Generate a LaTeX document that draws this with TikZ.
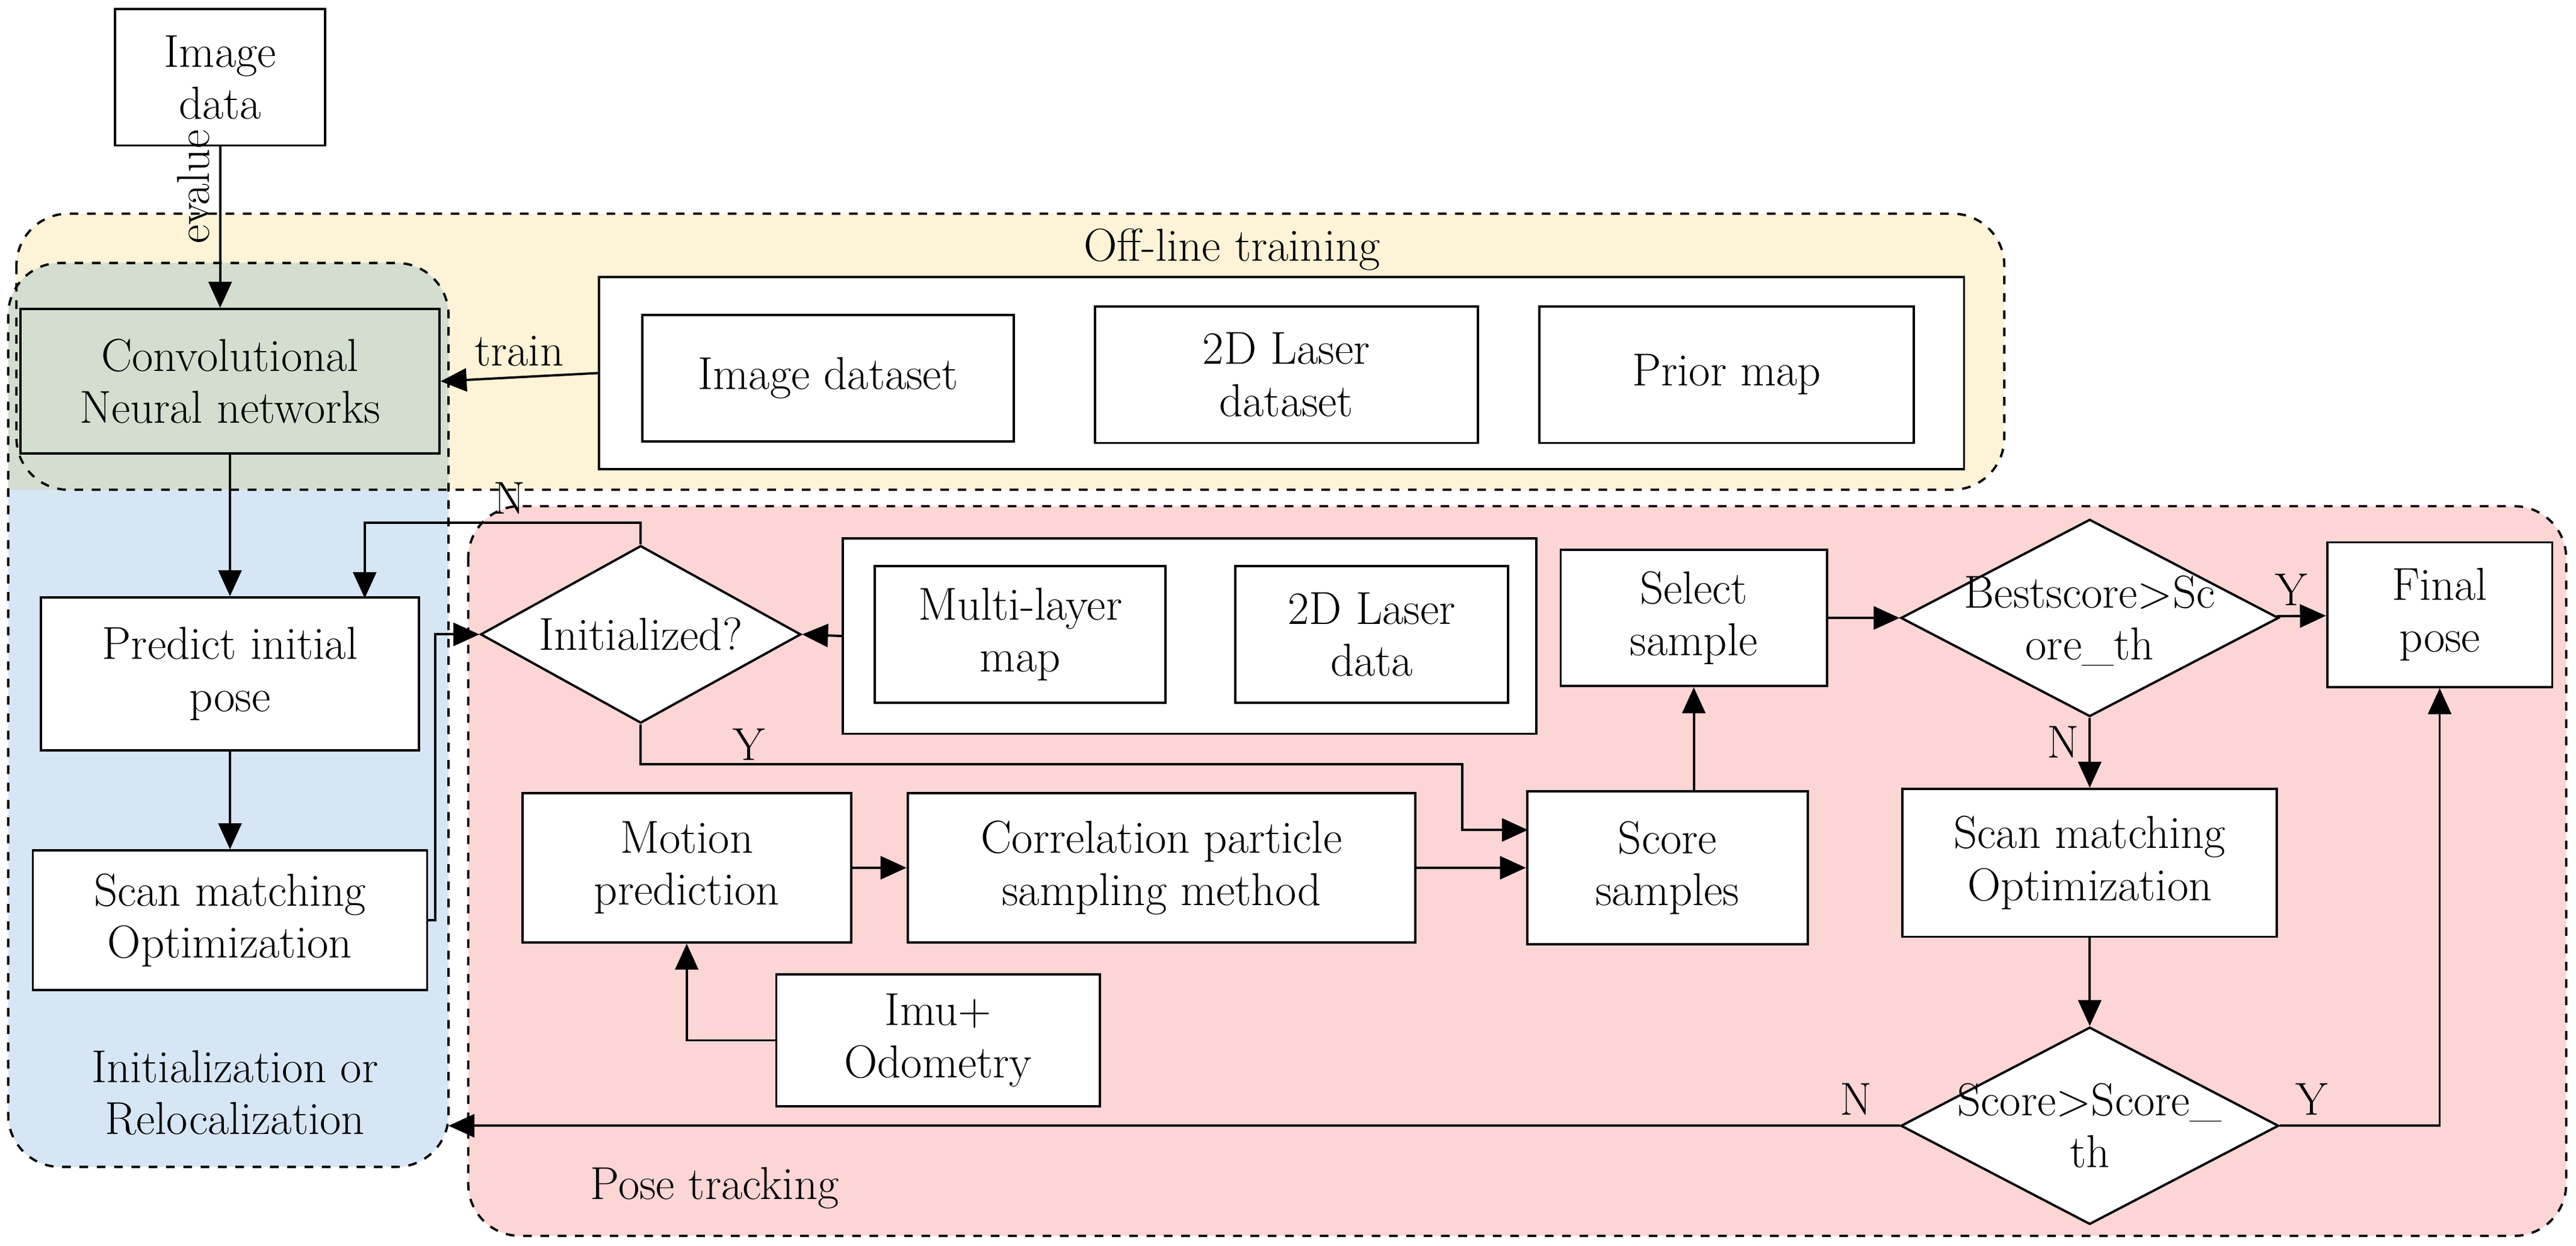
\documentclass[tikz,border=0pt]{standalone}
\usepackage{tikz}
\usetikzlibrary{shapes.geometric,arrows.meta}
\definecolor{yel}{HTML}{FDF3D6}
\definecolor{blu}{HTML}{D6E6F4}
\definecolor{grn}{HTML}{D3DECF}
\definecolor{pnk}{HTML}{FCD5D5}
\newcommand{\dtext}[1]{\smash{\raisebox{-0.9ex}{\makebox[0pt]{\begin{tabular}{@{}c@{}}#1\end{tabular}}}}}
\begin{document}
\begin{tikzpicture}[x=0.02cm,y=-0.02cm,
  every node/.style={font=\fontsize{16}{18}\selectfont},
  box/.style={draw,thick,align=center,inner sep=0pt},
  dia/.style={draw,thick,diamond,inner sep=0pt},
  region/.style={draw,thick,dashed,rounded corners=18},
  arr/.style={thick,-{Triangle[length=9pt,width=8pt]}},
  lab/.style={font=\fontsize{16}{18}\selectfont}]
\useasboundingbox (0,0) rectangle (1568,758);
% regions
\fill[fill=yel,rounded corners=18] (10,130) rectangle (1220,298);
\fill[fill=blu,rounded corners=18] (5,160) rectangle (273,710);
\fill[fill=grn,rounded corners=18] (5,298) -- (5,160) -- (273,160) [sharp corners] -- (273,298) -- cycle;
\fill[fill=pnk,rounded corners=18] (285,308) rectangle (1562,752);
\draw[region] (10,130) rectangle (1220,298);
\draw[region] (5,160) rectangle (273,710);
\draw[region] (285,308) rectangle (1562,752);
\node[lab] (offl) at (750,152) {Off-line training};
\node[lab,align=center] (initl) at (143,665) {Initialization or\\Relocalization};
\node[lab] (posel) at (435,723) {Pose tracking};
% nodes
\node[box,minimum width=128*0.02cm,minimum height=83*0.02cm,fill=white] (img) at (134,47) {Image\\data};
\node[box,minimum width=255*0.02cm,minimum height=88*0.02cm] (cnn) at (140,232) {Convolutional\\Neural networks};
\node[box,minimum width=831*0.02cm,minimum height=117*0.02cm,fill=white] (off) at (780,227) {};
\node[box,minimum width=226*0.02cm,minimum height=77*0.02cm] (ids) at (504,230) {Image dataset};
\node[box,minimum width=233*0.02cm,minimum height=83*0.02cm] (lds) at (783,228) {2D Laser\\dataset};
\node[box,minimum width=228*0.02cm,minimum height=83*0.02cm] (pm) at (1051,228) {Prior map};
\node[box,minimum width=230*0.02cm,minimum height=93*0.02cm,fill=white] (pred) at (140,410) {Predict initial\\pose};
\node[box,minimum width=240*0.02cm,minimum height=85*0.02cm,fill=white] (scl) at (140,560) {Scan matching\\Optimization};
\node[dia,minimum width=195*0.02cm,minimum height=108*0.02cm,fill=white] (ini) at (390,386) {\dtext{Initialized?}};
\node[box,minimum width=422*0.02cm,minimum height=119*0.02cm,fill=white] (inb) at (724,387) {};
\node[box,minimum width=177*0.02cm,minimum height=83*0.02cm] (mlm) at (621,386) {Multi-layer\\map};
\node[box,minimum width=166*0.02cm,minimum height=83*0.02cm] (ldd) at (835,386) {2D Laser\\data};
\node[box,minimum width=162*0.02cm,minimum height=83*0.02cm,fill=white] (sel) at (1031,376) {Select\\sample};
\node[dia,minimum width=230*0.02cm,minimum height=120*0.02cm,fill=white] (best) at (1272,376) {\dtext{Bestscore>Sc\\ore\_th}};
\node[box,minimum width=137*0.02cm,minimum height=88*0.02cm,fill=white] (fin) at (1485,374) {Final\\pose};
\node[box,minimum width=200*0.02cm,minimum height=91*0.02cm,fill=white] (mot) at (418,528) {Motion\\prediction};
\node[box,minimum width=309*0.02cm,minimum height=91*0.02cm,fill=white] (cor) at (707,528) {Correlation particle\\sampling method};
\node[box,minimum width=171*0.02cm,minimum height=93*0.02cm,fill=white] (ss) at (1015,528) {Score\\samples};
\node[box,minimum width=228*0.02cm,minimum height=90*0.02cm,fill=white] (scr) at (1272,525) {Scan matching\\Optimization};
\node[box,minimum width=197*0.02cm,minimum height=80*0.02cm,fill=white] (imu) at (571,633) {Imu+\\Odometry};
\node[dia,minimum width=230*0.02cm,minimum height=120*0.02cm,fill=white] (sc) at (1272,685) {\dtext{Score>Score\_\\th}};
% coordinates
\coordinate (lb) at (273,685);
% connectors
\draw[arr] (img.south -| 134,0) -- node[rotate=90,above,lab,pos=0.25] {evalue} (cnn.north -| 134,0);
\draw[arr] (off.west) -- node[above,lab] {train} (cnn.east);
\draw[arr] (cnn) -- (pred);
\draw[arr] (pred) -- (scl);
\draw[arr] (scl.east) -- (265,560) -- (265,386) -- (ini.west);
\draw[arr] (ini.north) -- (390,318) -- (222,318) -- (222,364);
\node[lab] (nl) at (310,303) {N};
\draw[arr] (ini.south) -- (390,465) -- (890,465) -- (890,505) -- (930,505);
\node[lab] (yl) at (456,453) {Y};
\draw[arr] (inb.west) -- (ini.east);
\draw[arr] (mot) -- (cor);
\draw[arr] (cor) -- (ss);
\draw[arr] (imu.west) -| (mot.south);
\draw[arr] (sel.south |- ss.north) -- (sel.south);
\draw[arr] (sel) -- (best);
\draw[arr] (best) -- node[above,lab,pos=0.3] {Y} (fin);
\draw[arr] (best) -- node[left,lab,pos=0.35] {N} (scr);
\draw[arr] (scr) -- (sc);
\draw[arr] (sc.west) -- node[above,lab,pos=0.03] {N} (lb);
\draw[arr] (sc.east) -- node[above,lab,pos=0.2] {Y} (sc.east -| fin.south) -- (fin.south);
\end{tikzpicture}
\end{document}
